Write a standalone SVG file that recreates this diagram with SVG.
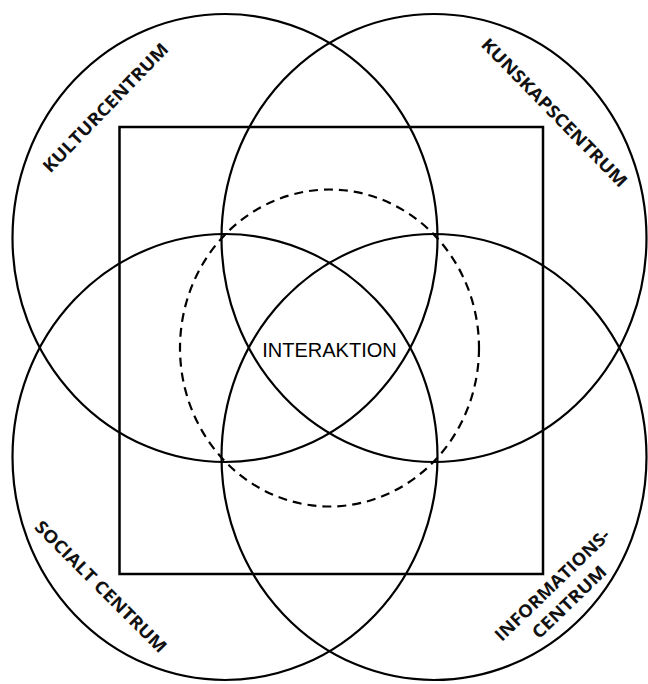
<svg xmlns="http://www.w3.org/2000/svg" width="648" height="684" viewBox="0 0 648 684">
<style>
.c{fill:none;stroke:#000;stroke-width:2.2}
.r{fill:none;stroke:#000;stroke-width:2.5}
.d{fill:none;stroke:#000;stroke-width:2.2;stroke-dasharray:9 6}
.l{font-family:"Open Sans","DejaVu Sans",sans-serif;font-weight:bold;font-size:17.5px;fill:#111;text-anchor:middle}
.m{font-family:"Liberation Sans",Arial,sans-serif;font-size:20px;fill:#000;text-anchor:middle}
</style>
<rect width="648" height="684" fill="#fff"/>
<g id="frame"><rect class="r" x="119.5" y="127" width="423.5" height="447"/></g>
<g id="interaktion-ring"><ellipse class="d" cx="329.5" cy="348" rx="149.5" ry="158.5"/></g>
<g id="kulturcentrum">
<ellipse class="c" cx="225" cy="238" rx="212.5" ry="224"/>
<text class="l" transform="translate(110,112) rotate(-46)" textLength="172" lengthAdjust="spacingAndGlyphs">KULTURCENTRUM</text>
</g>
<g id="kunskapscentrum">
<ellipse class="c" cx="434" cy="238" rx="212.5" ry="224"/>
<text class="l" transform="translate(550,117) rotate(45.6)" textLength="200" lengthAdjust="spacingAndGlyphs">KUNSKAPSCENTRUM</text>
</g>
<g id="socialt-centrum">
<ellipse class="c" cx="225" cy="457" rx="212.5" ry="223"/>
<text class="l" transform="translate(96.5,591) rotate(45)" textLength="178" lengthAdjust="spacingAndGlyphs">SOCIALT CENTRUM</text>
</g>
<g id="informationscentrum">
<ellipse class="c" cx="434" cy="457" rx="212.5" ry="223"/>
<text class="l" transform="translate(556.5,589.5) rotate(-44)" textLength="152" lengthAdjust="spacingAndGlyphs">INFORMATIONS-</text>
<text class="l" transform="translate(573.5,606.5) rotate(-44)" textLength="96" lengthAdjust="spacingAndGlyphs">CENTRUM</text>
</g>
<g id="interaktion"><text class="m" x="329.5" y="357">INTERAKTION</text></g>
<g id="connectors"></g>
</svg>
